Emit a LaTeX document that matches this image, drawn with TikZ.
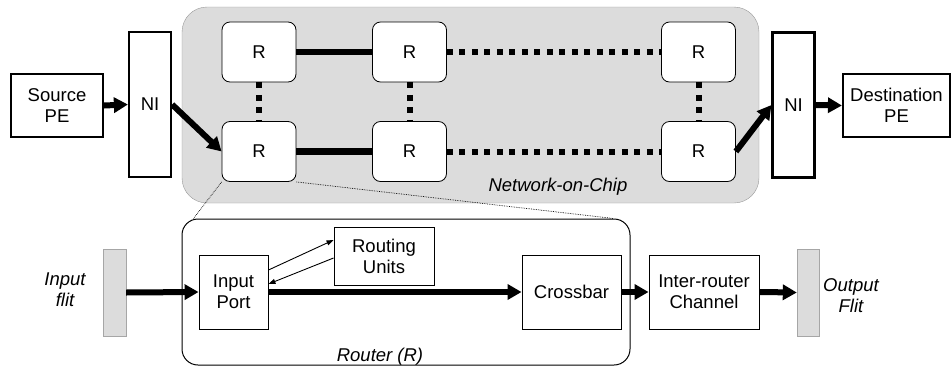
\documentclass[tikz,border=0pt]{standalone}
\usepackage{fontspec}
\setmainfont{Liberation Sans}
\usetikzlibrary{arrows.meta}
\definecolor{nocgray}{RGB}{220,220,220}

\begin{document}
\begin{tikzpicture}[x=1pt, y=-1pt,
        font=\fontsize{18.5}{21}\selectfont,
        pebox/.style={draw, line width=2.2pt, align=center, minimum width=92pt, minimum height=63pt, inner sep=0pt},
        nibox/.style={draw, line width=2.2pt, minimum width=42pt, minimum height=145pt, inner sep=0pt},
        router/.style={draw, fill=white, rounded corners=8pt, minimum width=74pt, minimum height=60pt, line width=0.8pt},
        unit/.style={draw, fill=white, align=center, line width=0.9pt, inner sep=0pt},
        flitbar/.style={draw=gray!70, fill=nocgray, minimum width=23pt, minimum height=87pt, inner sep=0pt},
        caption/.style={font=\fontsize{18.5}{21}\selectfont\itshape, align=center},
        bigarrow/.style={line width=6pt, -{Triangle[length=14pt,width=15pt]}},
        smallarrow/.style={line width=0.9pt, -{Triangle[length=7pt,width=5pt]}},
        solidlink/.style={line width=6.5pt},
        dotlink/.style={line width=6pt, dash pattern=on 6pt off 6.5pt},
        zoomline/.style={densely dotted, line width=0.7pt}]
        \useasboundingbox (0,0) rectangle (951,370);

        % Network-on-Chip background
        \node[draw=gray!80, fill=nocgray, rounded corners=25pt, minimum width=577pt, minimum height=196pt] (noc) at (470.5,105) {};
        \node[caption] (noclabel) at (558,187) {Network-on-Chip};

        % Processing elements and network interfaces
        \node[pebox] (src) at (57,105.5) {Source\\PE};
        \node[nibox] (ni1) at (150,104.5) {NI};
        \node[nibox] (ni2) at (793.5,105) {NI};
        \node[pebox, minimum width=107pt] (dst) at (896.5,105.5) {Destination\\PE};

        % Routers of the mesh
        \node[router] (r11) at (259,52) {R};    % Top-left
        \node[router] (r12) at (409.5,52) {R};  % Top-middle
        \node[router] (r13) at (698.5,52) {R};  % Top-right
        \node[router] (r21) at (259,151.5) {R};   % Bottom-left
        \node[router] (r22) at (409.5,151.5) {R}; % Bottom-middle
        \node[router] (r23) at (698.5,151.5) {R}; % Bottom-right

        % Links between routers
        \draw[solidlink] (r11) -- (r12);
        \draw[solidlink] (r21) -- (r22);
        \draw[dotlink] (r12) -- (r13);
        \draw[dotlink] (r22) -- (r23);
        \draw[dotlink] (r11) -- (r21);
        \draw[dotlink] (r12) -- (r22);
        \draw[dotlink] (r13) -- (r23);

        % Flow from source to destination
        \draw[bigarrow] (src.east) -- (ni1.west);
        \draw[bigarrow] (ni1.east) -- (r21.west);
        \draw[bigarrow] (r23.east) -- (ni2.west);
        \draw[bigarrow] (ni2.east) -- (dst.west);

        % Router detail
        \node[draw, rounded corners=16pt, minimum width=448pt, minimum height=146pt, line width=1pt] (rbox) at (406,292) {};
        \node[caption] (rlabel) at (380,357) {Router (R)};
        \node[flitbar] (inflit) at (114.5,292.5) {};
        \node[flitbar, minimum width=22pt] (outflit) at (808,292.5) {};
        \node[caption] (inlabel) at (65,290) {Input\\flit};
        \node[caption] (outlabel) at (851,296) {Output\\Flit};
        \node[unit, minimum width=69pt, minimum height=74pt] (inport) at (233.5,292) {Input\\Port};
        \node[unit, minimum width=100pt, minimum height=58pt] (routing) at (384,256) {Routing\\Units};
        \node[unit, minimum width=99pt, minimum height=74pt] (xbar) at (571.5,292) {Crossbar};
        \node[unit, minimum width=110pt, minimum height=74pt] (channel) at (704,292) {Inter-router\\Channel};

        % Zoom lines from the router to its detail
        \draw[zoomline] (r21.south west) -- ([xshift=12pt]rbox.north west);
        \draw[zoomline] (r21.south east) -- ([xshift=-17pt]rbox.north east);

        % Flow of a flit through the router
        \draw[bigarrow] (inflit.east) -- (inport.west);
        \draw[bigarrow] (inport.east) -- (xbar.west);
        \draw[bigarrow] (xbar.east) -- (channel.west);
        \draw[bigarrow] (channel.east) -- (outflit.west);
        \draw[smallarrow] ([yshift=22pt]inport.east) -- ([yshift=16pt]routing.west);
        \draw[smallarrow] ([yshift=-2pt]routing.west) -- ([yshift=8pt]inport.east);

    \end{tikzpicture}
\end{document}
